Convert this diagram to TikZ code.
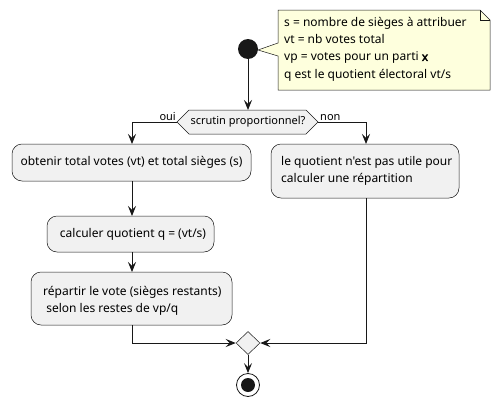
\documentclass[tikz,border=0pt]{standalone}
\usepackage{fontspec}
\setmainfont{Noto Sans}[Ligatures=TeXOff]
\newfontfamily\fakebold{Noto Sans}[FakeBold=2.5]
\usetikzlibrary{arrows.meta,shapes.geometric}
\definecolor{boxfill}{HTML}{F1F1F1}
\definecolor{boxline}{HTML}{181818}
\definecolor{notefill}{HTML}{FEFFDD}
\tikzset{
  act/.style={draw=boxline, line width=0.5pt, fill=boxfill, rounded corners=10pt},
  txt/.style={inner sep=0pt, font=\fontsize{12}{17}\selectfont},
  flow/.style={draw=boxline, line width=0.9pt, -{Stealth[length=10pt,width=8pt,inset=4pt]}},
  lbl/.style={font=\fontsize{11}{13}\selectfont, inner sep=0pt},
}
\begin{document}
\begin{tikzpicture}[x=1pt,y=-1pt]
\useasboundingbox (0,0) rectangle (501,407);
% start
\node[circle, fill=boxline, minimum size=20pt, inner sep=0pt] (start) at (248,49) {};
% note
\draw[boxline, line width=0.5pt, fill=notefill] (278,10) -- (480,10) -- (490,20) -- (490,90) -- (278,90) -- (278,56) -- (258,50) -- (278,43) -- cycle;
\draw[boxline, line width=0.5pt] (480,10) -- (480,20) -- (490,20);
\node[txt, anchor=north west, align=left, font=\fontsize{12}{17.3}\selectfont] (note) at (284,17) {s = nombre de sièges à attribuer\\vt = nb votes total\\vp = votes pour un parti {\fakebold x}\\q est le quotient électoral vt/s};
% decision hexagon
\draw[boxline, line width=0.5pt, fill=boxfill] (177,122) -- (189,110) -- (306,110) -- (318,122) -- (306,134) -- (189,134) -- cycle;
\coordinate (dtop) at (248,110);
\coordinate (dleft) at (177,122);
\coordinate (dright) at (318,122);
\node[lbl] (dtext) at (248,122) {scrutin proportionnel?};
\node[lbl, anchor=south east] (oui) at (176,121) {oui};
\node[lbl, anchor=south west] (non) at (320,121) {non};
% boxes
\draw[act] (12,144) rectangle (251,181);
\node[txt] (b1) at (131.5,162.5) {obtenir total votes (vt) et total sièges (s)};
\coordinate (b1t) at (132,144); \coordinate (b1b) at (132,181);
\draw[act] (271,144) rectangle (459,198);
\node[txt, anchor=west, align=left] (b4) at (281,171) {le quotient n'est pas utile pour\\calculer une répartition};
\coordinate (b4t) at (366,144); \coordinate (b4b) at (366,198);
\draw[act] (47,216) rectangle (214,252);
\node[txt] (b2) at (133,234) {calculer quotient q = (vt/s)};
\coordinate (b2t) at (132,216); \coordinate (b2b) at (132,252);
\draw[act] (31,272) rectangle (232,325);
\node[txt, anchor=west, align=left] (b3) at (43,300.5) {répartir le vote (sièges restants)\\\ selon les restes de vp/q};
\coordinate (b3t) at (132,272); \coordinate (b3b) at (132,325);
% merge
\node[diamond, draw=boxline, line width=0.5pt, fill=boxfill, minimum width=24pt, minimum height=23pt, inner sep=0pt] (merge) at (248,343) {};
% end
\node[circle, draw=boxline, line width=0.8pt, fill=white, minimum size=23pt, inner sep=0pt] (stop) at (248,385) {};
\node[circle, fill=boxline, minimum size=14pt, inner sep=0pt] (stopin) at (248,385) {};
% flows
\draw[flow] (start) -- (dtop);
\draw[flow] (dleft) -| (b1t);
\draw[flow] (dright) -| (b4t);
\draw[flow] (b1b) -- (b2t);
\draw[flow] (b2b) -- (b3t);
\draw[flow] (b3b) |- (merge.west);
\draw[flow] (b4b) |- (merge.east);
\draw[flow] (merge.south) -- (stop.north);
\end{tikzpicture}
\end{document}
